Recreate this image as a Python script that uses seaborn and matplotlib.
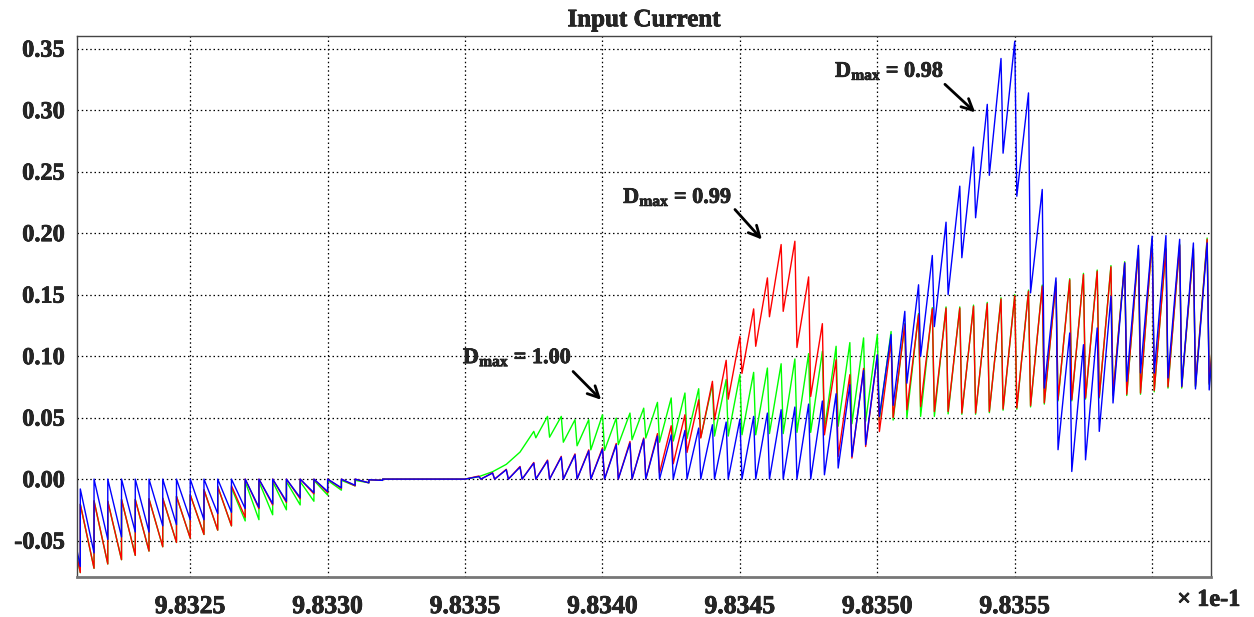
import numpy as np
import pandas as pd
import matplotlib
matplotlib.use("Agg")
import matplotlib.pyplot as plt
import matplotlib.patheffects as pe
from matplotlib import font_manager as fm
import seaborn as sns

# ---------------- data ----------------
T0 = 9.83205          # first switching edge (x axis in units of 1e-1 s)
PERIOD = 5e-5         # switching period

# value right after each edge (start) and right before the next edge (end)
blue_start = [-0.016, -0.008, 0, 0, 0, 0, 0, 0, 0, 0, 0, 0, 0, 0, 0, 0, 0, 0, 0, 0,
              0, 0, -0.0005, 0, 0, 0, 0, 0, 0, 0, 0, 0, 0, 0, 0, 0, 0, 0, 0, 0,
              0, 0, 0, 0, 0, 0, 0, 0, 0, 0, 0, 0, 0, 0, 0, 0.0035, 0.009, 0.0184, 0.028, 0.051,
              0.060, 0.078, 0.0998, 0.124, 0.150, 0.180, 0.2125, 0.247, 0.265, 0.230,
              0.1514, 0.074, 0.0239, 0.0062, 0.0157, 0.0388, 0.0619, 0.0795, 0.0863, 0.0863,
              0.0823, 0.0754, 0.0733, 0.0725]
blue_end = [-0.071, -0.060, -0.049, -0.047, -0.043, -0.043, -0.038, -0.037, -0.033, -0.033,
            -0.028, -0.027, -0.024, -0.023, -0.020, -0.018, -0.015, -0.011, -0.010, -0.007,
            -0.005, -0.003, -0.001, 0, 0, 0, 0, 0, 0, 0.0021,
            0.0049, 0.0076, 0.0098, 0.013, 0.0149, 0.0179, 0.0198, 0.023, 0.0244, 0.0279,
            0.0293, 0.0326, 0.035, 0.036, 0.0396, 0.0415, 0.0442, 0.0464, 0.0488, 0.051,
            0.0537, 0.0564, 0.0586, 0.061, 0.0635, 0.0694, 0.0768, 0.0884, 0.101, 0.1175,
            0.1364, 0.158, 0.1818, 0.2089, 0.2382, 0.270, 0.3047, 0.342, 0.356, 0.314,
            0.2355, 0.1636, 0.1188, 0.1093, 0.1229, 0.1486, 0.1758, 0.190, 0.1975, 0.198,
            0.195, 0.192, 0.192, 0.190]

red_start = [-0.022, -0.0204, -0.0177, -0.018, -0.0165, -0.0165, -0.016, -0.0155, -0.014, -0.0127,
             -0.0087, -0.006, -0.0054, 0, 0, 0, 0, 0, 0, 0,
             0, 0, -0.0005, 0, 0, 0, 0, 0, 0, 0,
             0, 0, 0, 0, 0, 0, 0, 0, 0, 0,
             0, 0, 0, 0.005, 0.0125, 0.0217, 0.0334, 0.0483, 0.065, 0.086,
             0.108, 0.132, 0.1364, 0.107, 0.0672, 0.036, 0.0184, 0.0171, 0.0265, 0.0387,
             0.050, 0.0564, 0.059, 0.055, 0.055, 0.0537, 0.0537, 0.055, 0.057, 0.0578,
             0.0597, 0.062, 0.0646, 0.0646, 0.066, 0.067, 0.069, 0.069, 0.070, 0.072,
             0.075, 0.075, 0.076, 0.078]
red_end = [-0.076, -0.0725, -0.069, -0.0655, -0.062, -0.0585, -0.055, -0.0515, -0.048, -0.045,
           -0.0415, -0.038, -0.031, -0.024, -0.021, -0.019, -0.016, -0.012, -0.011, -0.0075,
           -0.0055, -0.003, -0.001, 0, 0, 0, 0, 0, 0, 0.0025,
           0.0052, 0.008, 0.0103, 0.0135, 0.0155, 0.0185, 0.0205, 0.0238, 0.0255, 0.029,
           0.0306, 0.0334, 0.037, 0.0434, 0.0523, 0.0645, 0.0795, 0.0966, 0.116, 0.1384,
           0.1636, 0.1907, 0.1934, 0.1644, 0.1264, 0.097, 0.0849, 0.090, 0.101, 0.112,
           0.1256, 0.1337, 0.1384, 0.139, 0.139, 0.1405, 0.1427, 0.1465, 0.149, 0.1527,
           0.1568, 0.1595, 0.162, 0.1663, 0.169, 0.1726, 0.1758, 0.1867, 0.1948, 0.1867,
           0.190, 0.187, 0.195, 0.190]

green_start = [-0.022, -0.0204, -0.0177, -0.018, -0.0165, -0.0165, -0.016, -0.0155, -0.014, -0.0127,
               -0.0087, -0.006, -0.007, -0.002, -0.002, -0.002, -0.002, -0.002, -0.001, -0.001,
               -0.001, -0.001, -0.0005, 0, 0, 0, 0, 0, 0, 0,
               0.002, 0.006, 0.012, 0.022, 0.0336, 0.0341, 0.030, 0.0271, 0.0238, 0.0233,
               0.028, 0.032, 0.0334, 0.030, 0.031, 0.033, 0.034, 0.035, 0.035, 0.036,
               0.036, 0.037, 0.037, 0.038, 0.038, 0.040, 0.043, 0.045, 0.047, 0.048,
               0.048, 0.050, 0.051, 0.051, 0.053, 0.0527, 0.0527, 0.054, 0.056, 0.0568,
               0.0587, 0.061, 0.0636, 0.0636, 0.065, 0.066, 0.068, 0.068, 0.069, 0.071,
               0.074, 0.074, 0.075, 0.077]
green_end = [-0.076, -0.0725, -0.069, -0.0655, -0.062, -0.0585, -0.055, -0.0515, -0.048, -0.045,
             -0.0415, -0.038, -0.034, -0.033, -0.029, -0.025, -0.021, -0.018, -0.013, -0.009,
             -0.0055, -0.003, -0.001, 0, 0, 0, 0, 0, 0, 0.002,
             0.006, 0.012, 0.022, 0.0388, 0.051, 0.051, 0.0483, 0.0483, 0.0523, 0.0496,
             0.0537, 0.0577, 0.0624, 0.066, 0.070, 0.0735, 0.077, 0.081, 0.085, 0.0868,
             0.0903, 0.0938, 0.0977, 0.102, 0.104, 0.108, 0.111, 0.1148, 0.1175, 0.120,
             0.1266, 0.1347, 0.1394, 0.140, 0.140, 0.1415, 0.1437, 0.1475, 0.150, 0.1537,
             0.1578, 0.1605, 0.163, 0.1673, 0.170, 0.1736, 0.1768, 0.1877, 0.1958, 0.1877,
             0.191, 0.188, 0.196, 0.191]

series_names = ["D_max = 1.00", "D_max = 0.99", "D_max = 0.98"]
series_colors = ["#00ff00", "#ff0000", "#0000ff"]

x_ticks = [9.8325, 9.8330, 9.8335, 9.8340, 9.8345, 9.8350, 9.8355, 9.8360]
x_labels = ["9.8325", "9.8330", "9.8335", "9.8340", "9.8345", "9.8350", "9.8355", ""]
y_ticks = [-0.05, 0.0, 0.05, 0.10, 0.15, 0.20, 0.25, 0.30, 0.35]

# ---------------- build waveform points ----------------
FALL = 0.15   # falling edges take a small part of the period


def waveform(start, end):
    xs, ys = [], []
    prev = None
    for k, (a, b) in enumerate(zip(start, end)):
        t_a = T0 + k * PERIOD
        if prev is not None and a < prev - 1e-9:
            t_a += FALL * PERIOD
        xs.append(t_a)
        ys.append(a)
        xs.append(T0 + (k + 1) * PERIOD)
        ys.append(b)
        prev = b
    return xs, ys


frames = []
for name, (st, en) in zip(series_names, [(green_start, green_end),
                                         (red_start, red_end),
                                         (blue_start, blue_end)]):
    xs, ys = waveform(st, en)
    frames.append(pd.DataFrame({"t": xs, "i": ys, "series": name}))
df = pd.concat(frames, ignore_index=True)

# ---------------- plot ----------------
sns.set_style("white")
plt.rcParams["font.family"] = ["Liberation Serif", "DejaVu Serif"]
plt.rcParams["font.weight"] = "bold"
plt.rcParams["mathtext.fontset"] = "custom"
plt.rcParams["mathtext.rm"] = "Liberation Serif:bold"
plt.rcParams["mathtext.bf"] = "Liberation Serif:bold"
plt.rcParams["mathtext.it"] = "Liberation Serif:bold:italic"

try:
    _bold_path = fm.findfont(fm.FontProperties(family="Liberation Serif", weight="bold"),
                             fallback_to_default=False)
    HAS_BOLD = "bold" in _bold_path.lower()
except Exception:
    HAS_BOLD = False
# a thin stroke makes the heavy print-style bold of the reference
FX = [pe.withStroke(linewidth=0.5 if HAS_BOLD else 1.1, foreground="black")]

fig = plt.figure(figsize=(12.54, 6.17), dpi=100)
ax = fig.add_axes([0.0614, 0.0648, 0.9043, 0.8769])

sns.lineplot(data=df, x="t", y="i", hue="series", hue_order=series_names,
             palette=dict(zip(series_names, series_colors)), sort=False,
             estimator=None, legend=False, linewidth=1.0, ax=ax)

ax.set_xlim(9.832088, 9.836214)
ax.set_ylim(-0.0796, 0.3603)
ax.set_xticks(x_ticks)
ax.set_xticklabels(x_labels)
ax.set_yticks(y_ticks)
ax.set_yticklabels([f"{v:.2f}" for v in y_ticks])
ax.set_xlabel("")
ax.set_ylabel("")

ax.grid(True, linestyle=(0, (1.2, 2.2)), color="black", linewidth=0.9)
ax.set_axisbelow(True)
for side in ["top", "right", "left"]:
    ax.spines[side].set_color("#444444")
    ax.spines[side].set_linewidth(1.0)
ax.spines["bottom"].set_color("#777777")
ax.spines["bottom"].set_linewidth(2.0)

ax.tick_params(axis="y", direction="out", length=7, width=1.5, color="#555555",
               labelsize=17.5, pad=2)
ax.tick_params(axis="x", direction="out", length=9, width=1.5, color="#777777",
               labelsize=18.5, pad=4)
for lab in ax.get_xticklabels() + ax.get_yticklabels():
    lab.set_fontweight("bold")
    lab.set_path_effects(FX)

title = ax.set_title("Input Current", fontsize=18, fontweight="bold", pad=7)
title.set_path_effects(FX)

ann = [
    (r"D$_{\mathrm{max}}$ = 0.98", (9.834846, 0.3315), (9.835246, 0.321), (9.835356, 0.2982)),
    (r"D$_{\mathrm{max}}$ = 0.99", (9.834075, 0.229), (9.834482, 0.2192), (9.834580, 0.1948)),
    (r"D$_{\mathrm{max}}$ = 1.00", (9.833492, 0.0987), (9.833893, 0.0875), (9.833995, 0.0645)),
]
for text, pos, tail, head in ann:
    t = ax.text(pos[0], pos[1], text, fontsize=16, fontweight="bold", ha="left", va="center")
    t.set_path_effects(FX)
    ax.annotate("", xy=head, xytext=tail,
                arrowprops=dict(arrowstyle="->", color="black", lw=2.0,
                                mutation_scale=20, shrinkA=0, shrinkB=0))

xl = fig.text(0.989, 0.027, "× 1e-1", fontsize=17.5, fontweight="bold", ha="right", va="center")
xl.set_path_effects(FX)

fig.savefig("out.png", dpi=100)
